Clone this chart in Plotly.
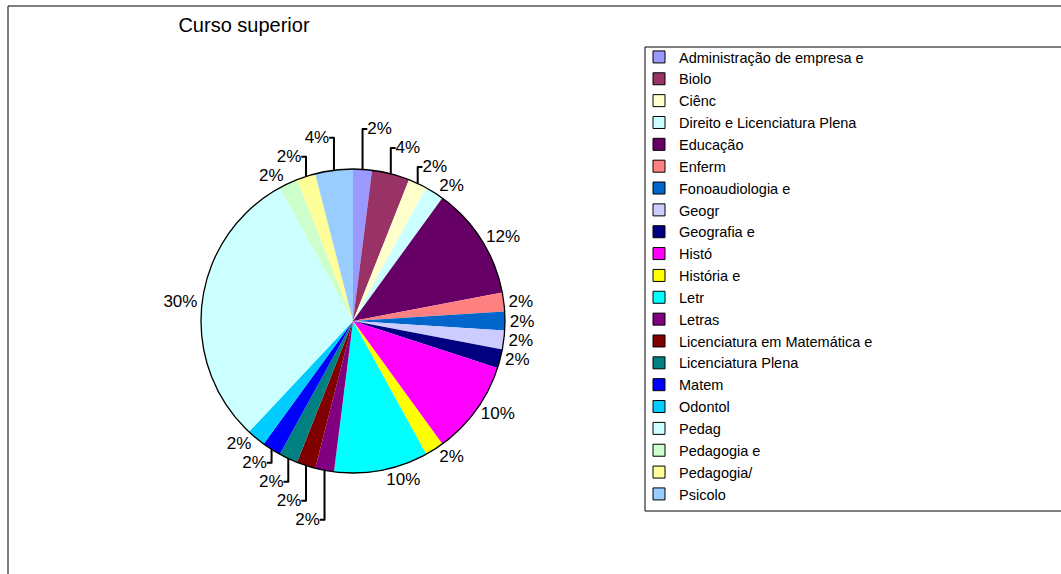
import plotly.graph_objects as go

cursos = [
    "Administração de empresa e", "Biolo", "Ciênc", "Direito e Licenciatura Plena",
    "Educação", "Enferm", "Fonoaudiologia e", "Geogr", "Geografia e", "Histó",
    "História e", "Letr", "Letras", "Licenciatura em Matemática e",
    "Licenciatura Plena", "Matem", "Odontol", "Pedag", "Pedagogia e",
    "Pedagogia/", "Psicolo",
]
alunos = [1, 2, 1, 1, 6, 1, 1, 1, 1, 5, 1, 5, 1, 1, 1, 1, 1, 15, 1, 1, 2]
cores = [
    "#9999FF", "#993366", "#FFFFCC", "#CCFFFF", "#660066", "#FF8080", "#0066CC",
    "#CCCCFF", "#000080", "#FF00FF", "#FFFF00", "#00FFFF", "#800080", "#800000",
    "#008080", "#0000FF", "#00CCFF", "#CCFFFF", "#CCFFCC", "#FFFF99", "#99CCFF",
]

W, H = 1061, 574
cx, cy, r = 353, 321, 152
dom_x = [(cx - r) / W, (cx + r) / W]
dom_y = [(H - cy - r) / H, (H - cy + r) / H]
fonte = "Liberation Sans, Arial, sans-serif"

fig = go.Figure()

# pie minúscula só para a legenda (quadrados com borda preta)
fig.add_trace(go.Pie(
    labels=cursos, values=alunos, sort=False, direction="clockwise",
    marker=dict(colors=cores, line=dict(color="black", width=1)),
    textinfo="none", hoverinfo="skip",
    domain=dict(x=[cx / W, cx / W + 0.0001], y=[(H - cy) / H, (H - cy) / H + 0.0001]),
))

fig.add_trace(go.Pie(
    labels=cursos, values=alunos, sort=False, direction="clockwise",
    marker=dict(colors=cores, line=dict(width=0)),
    texttemplate="%{percent:.0%}", textposition="outside",
    outsidetextfont=dict(size=17, color="black", family=fonte),
    hoverinfo="skip", showlegend=False,
    domain=dict(x=dom_x, y=dom_y),
))

# contorno externo da pizza
fig.add_trace(go.Pie(
    labels=["contorno"], values=[1], sort=False,
    marker=dict(colors=["rgba(0,0,0,0)"], line=dict(color="black", width=1.3)),
    textinfo="none", hoverinfo="skip", showlegend=False,
    domain=dict(x=dom_x, y=dom_y),
))

# moldura do gráfico e da legenda
fig.add_shape(type="rect", xref="paper", yref="paper",
              x0=8 / W, x1=1.01, y0=-0.02, y1=1 - 6 / H,
              line=dict(color="black", width=1))
fig.add_shape(type="rect", xref="paper", yref="paper",
              x0=645 / W, x1=1.01, y0=1 - 511 / H, y1=1 - 47 / H,
              line=dict(color="black", width=1))

fig.update_layout(
    width=W, height=H,
    margin=dict(l=0, r=0, t=0, b=0),
    paper_bgcolor="white", plot_bgcolor="white",
    font=dict(family=fonte, color="black"),
    title=dict(text="Curso superior", x=244 / W, xanchor="center",
               y=1 - 25 / H, yanchor="middle", font=dict(size=20, color="black")),
    legend=dict(x=639 / W, y=1 - 41 / H, xanchor="left", yanchor="top",
                borderwidth=0, bgcolor="rgba(0,0,0,0)",
                font=dict(size=14.5, color="black", family=fonte),
                itemclick=False, itemdoubleclick=False),
)

fig.write_html("out.html", config={"displayModeBar": False},
               post_script="document.body.style.margin='0';")
